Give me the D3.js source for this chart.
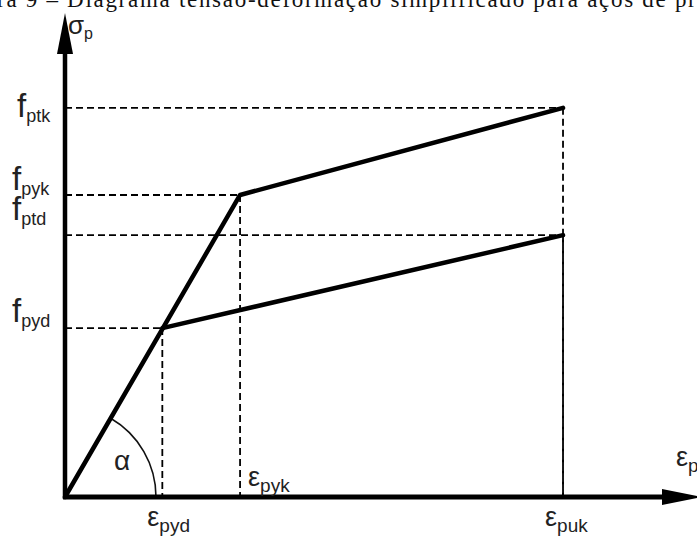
<!DOCTYPE html>
<html lang="pt">
<head>
    <meta charset="UTF-8">
    <title>Diagrama tensão-deformação simplificado</title>
    <script src="https://d3js.org/d3.v7.min.js"></script>
    <style>
        body { margin: 0; background: #fff; }
        .lbl { font-family: "Liberation Sans", Arial, sans-serif; fill: #222; }
        .dash { stroke: #000; stroke-width: 1.8px; stroke-dasharray: 7,4; fill: none; }
        .curve { stroke: #000; stroke-width: 4.5px; fill: none; stroke-linejoin: round; stroke-linecap: round; }
    </style>
</head>
<body>
<svg width="697" height="537"></svg>
<script>
    const width = 697;
    const height = 537;

    // strain levels (schematic units)
    const strainNames = ["pyd", "pyk", "puk"];
    const strainValues = [1.54, 2.77, 7.88];

    // stress levels (schematic units)
    const stressNames = ["ptk", "pyk", "ptd", "pyd"];
    const stressValues = [80.4, 62.4, 54.1, 34.9];

    // the two branches: characteristic and design
    const charCurve = [[0, 0], [2.77, 62.4], [7.88, 80.4]];
    const designCurve = [[1.54, 34.9], [7.88, 54.1]];

    // points that get dashed guides: [strain, stress]
    const guidePoints = [[7.88, 80.4], [2.77, 62.4], [7.88, 54.1], [1.54, 34.9]];

    const x = d3.scaleLinear().domain([0, 10]).range([65, 697]);
    const y = d3.scaleLinear().domain([0, 100]).range([497, 13]);

    const svg = d3.select("svg");

    // caption, cropped at the top of the picture
    svg.append("text")
        .attr("x", -3)
        .attr("y", 7)
        .attr("font-family", "Liberation Serif, Times New Roman, serif")
        .attr("font-size", 23)
        .attr("fill", "#111")
        .attr("textLength", 712)
        .attr("lengthAdjust", "spacing")
        .text("ra 9 – Diagrama tensão-deformação simplificado para aços de pro");

    // dashed guides
    const g = svg.append("g");
    guidePoints.forEach(p => {
        g.append("line").attr("class", "dash")
            .attr("x1", x(0)).attr("x2", x(p[0]))
            .attr("y1", y(p[1])).attr("y2", y(p[1]));
        g.append("line").attr("class", "dash")
            .attr("x1", x(p[0])).attr("x2", x(p[0]))
            .attr("y1", y(p[1])).attr("y2", y(0));
    });

    // angle arc
    const ang = Math.atan2(y(0) - y(62.4), x(2.77) - x(0));
    const r = 91;
    svg.append("path")
        .attr("d", d3.arc()({innerRadius: r, outerRadius: r,
            startAngle: Math.PI / 2 - ang, endAngle: Math.PI / 2}))
        .attr("transform", `translate(${x(0)},${y(0)})`)
        .attr("fill", "none")
        .attr("stroke", "#111")
        .attr("stroke-width", 1.6);

    const line = d3.line().x(d => x(d[0])).y(d => y(d[1]));
    svg.append("path").attr("class", "curve").attr("d", line(charCurve));
    svg.append("path").attr("class", "curve").attr("d", line(designCurve));

    // axes with arrows
    svg.append("line")
        .attr("x1", x(0)).attr("y1", y(0) + 2)
        .attr("x2", x(0)).attr("y2", 50)
        .attr("stroke", "#000").attr("stroke-width", 4.5);
    svg.append("path")
        .attr("d", `M${x(0)},13 L${x(0) - 8},54 L${x(0) + 8},54 Z`)
        .attr("fill", "#000");
    svg.append("line")
        .attr("x1", x(0) - 2).attr("y1", y(0))
        .attr("x2", 668).attr("y2", y(0))
        .attr("stroke", "#000").attr("stroke-width", 5);
    svg.append("path")
        .attr("d", `M702,${y(0)} L662,${y(0) - 8} L662,${y(0) + 8} Z`)
        .attr("fill", "#000");

    // symbol with subscript
    function label(px, py, main, sub, size, subSize, dy) {
        const t = svg.append("text").attr("class", "lbl")
            .attr("x", px).attr("y", py).attr("font-size", size);
        t.append("tspan").text(main);
        t.append("tspan").attr("font-size", subSize).attr("dy", dy).text(sub);
    }

    // stress labels on the vertical axis
    const fOffsets = {ptk: [17, 9], pyk: [12, -5], ptd: [12, -15], pyd: [12, -6]};
    stressNames.forEach((n, i) => {
        const o = fOffsets[n];
        label(o[0], y(stressValues[i]) + o[1], "f", n, 33, 18, 5);
    });

    // strain labels
    const eOffsets = {pyd: [-15, 29], pyk: [8, -11], puk: [-18, 29]};
    strainNames.forEach((n, i) => {
        const o = eOffsets[n];
        label(x(strainValues[i]) + o[0], y(0) + o[1], "ε", n, 27, 19, 6);
    });

    // axis titles and angle
    label(68, 34, "σ", "p", 26, 16, 5);
    label(676, 466, "ε", "p", 27, 19, 6);
    svg.append("text").attr("class", "lbl")
        .attr("x", 114).attr("y", 470)
        .attr("font-size", 28)
        .attr("font-family", "Liberation Serif, serif")
        .text("α");
</script>
</body>
</html>
